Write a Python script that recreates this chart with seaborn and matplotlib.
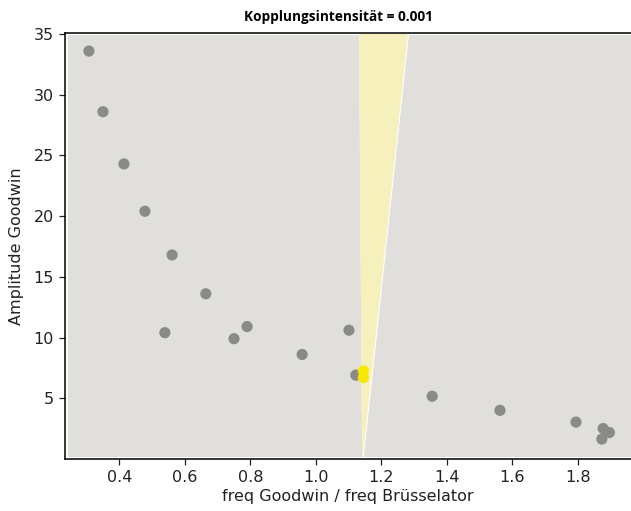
import matplotlib
matplotlib.use("Agg")
import matplotlib.pyplot as plt
import seaborn as sns
import pandas as pd
import numpy as np

# Frequency ratio and Goodwin amplitude of the simulated runs
freq_ratio = [0.307, 0.350, 0.414, 0.478, 0.561, 0.664, 0.539, 0.750, 0.790,
              0.958, 1.101, 1.122, 1.355, 1.562, 1.794, 1.877, 1.896, 1.873]
amplitude = [33.6, 28.6, 24.3, 20.4, 16.8, 13.6, 10.4, 9.9, 10.9,
             8.6, 10.6, 6.9, 5.16, 4.0, 3.03, 2.5, 2.17, 1.63]

# Runs that ended up synchronised (inside the tongue)
sync_ratio = [1.145, 1.145]
sync_amplitude = [7.25, 6.7]

# Boundaries of the synchronisation tongue
tongue_y = [0.15, 35.0]
tongue_left = [1.141, 1.132]
tongue_right = [1.143, 1.281]

# Extent of the shaded parameter region
region_x = [0.240, 1.962]
region_y = [0.15, 35.0]

sns.set_theme(style="white")
plt.rcParams["font.family"] = ["DejaVu Sans"]

fig = plt.figure(figsize=(6.31, 5.11), dpi=100)
ax = fig.add_axes([0.103, 0.102, 0.897, 0.833])

grey = "#e0dfdb"
ax.fill_betweenx(tongue_y, [region_x[0]] * 2, tongue_left,
                 color=grey, edgecolor="white", linewidth=0.8, zorder=1)
ax.fill_betweenx(tongue_y, tongue_right, [region_x[1]] * 2,
                 color=grey, edgecolor="white", linewidth=0.8, zorder=1)
ax.fill_betweenx(tongue_y, tongue_left, tongue_right,
                 color="#f6f0bd", edgecolor="none", zorder=1)

df = pd.DataFrame({"ratio": freq_ratio, "amp": amplitude})
df_sync = pd.DataFrame({"ratio": sync_ratio, "amp": sync_amplitude})
sns.scatterplot(data=df, x="ratio", y="amp", ax=ax, color="#8a8a87",
                s=65, edgecolor="none", zorder=3)
sns.scatterplot(data=df_sync, x="ratio", y="amp", ax=ax, color="#f7e800",
                s=65, edgecolor="none", zorder=3)

ax.set_xlim(0.234, 1.962)
ax.set_ylim(0.0, 35.07)
ax.set_xticks([0.4, 0.6, 0.8, 1.0, 1.2, 1.4, 1.6, 1.8])
ax.set_yticks([5, 10, 15, 20, 25, 30, 35])
ax.tick_params(axis="both", which="both", length=4.5, width=0.9,
               bottom=True, left=True, labelsize=11.5, colors="#222222",
               labelcolor="#222222")
for side in ["left", "bottom", "top"]:
    ax.spines[side].set_color("black")
    ax.spines[side].set_linewidth(1.1)
ax.spines["right"].set_visible(False)

ax.set_xlabel("freq Goodwin / freq Brüsselator", fontsize=11.5,
              color="#222222", labelpad=3)
ax.set_ylabel("Amplitude Goodwin", fontsize=11.5, color="#222222",
              labelpad=7)
ax.set_title("Kopplungsintensität = 0.001", fontsize=9.8, fontweight="bold",
             family=["Open Sans", "DejaVu Sans"], color="black", x=0.484,
             pad=9)

fig.savefig("out.png", dpi=100)
